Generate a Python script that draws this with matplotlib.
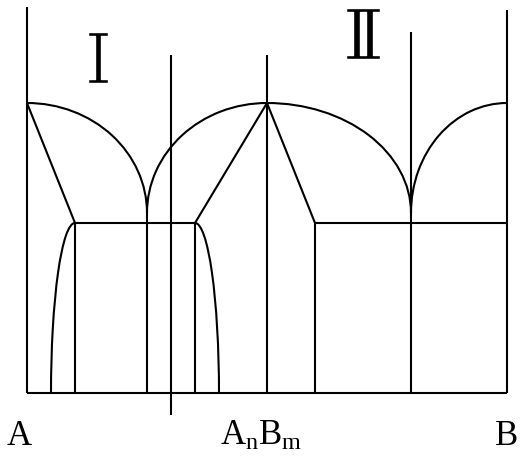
import matplotlib
matplotlib.use("Agg")
import matplotlib.pyplot as plt
import matplotlib.patheffects as pe
from matplotlib.patches import Arc

# composition axis: 0 = pure A, 1 = pure B; temperature in arbitrary units
melt_T = 290            # melting point of A, B and the congruent compound AnBm
cusp_T = 180            # where the liquidus branches meet
eutectic_T = 170        # eutectic horizontals
x_compound = 0.5
x_eutectic = [0.25, 0.80]
alpha_edge = [0.10, 0.35]   # ends of the left eutectic line
beta_edge = [0.60, 1.0]     # ends of the right eutectic line
solvus_foot = [0.05, 0.40]  # solvus ends at the baseline

# vertical lines: (composition, T bottom, T top)
verticals = [
    (0.0, 0, 386),
    (0.10, 0, 170),
    (0.25, 0, 180),
    (0.30, -22, 338),
    (0.35, 0, 170),
    (0.50, 0, 338),
    (0.60, 0, 170),
    (0.80, 0, 361),
    (1.0, 0, 383),
]

region_labels = ["Ⅰ", "Ⅱ"]
region_pos = [(0.148, 310), (0.70, 334)]
bottom_labels = ["A", r"$\mathrm{A_{n}B_{m}}$", "B"]

plt.rcParams['mathtext.fontset'] = 'custom'
plt.rcParams['mathtext.rm'] = 'Liberation Serif'

fig = plt.figure(figsize=(5.25, 4.59), dpi=100)
ax = fig.add_axes([0, 0, 1, 1])
ax.set_xlim(-27 / 480, 498 / 480)
ax.set_ylim(-66, 393)
ax.axis('off')

lw = 1.5
kw = dict(color='black', lw=lw, solid_capstyle='butt')

# baseline
ax.plot([0, 1], [0, 0], **kw)

for x, t0, t1 in verticals:
    ax.plot([x, x], [t0, t1], **kw)

# eutectic horizontals
ax.plot(alpha_edge, [eutectic_T, eutectic_T], **kw)
ax.plot(beta_edge, [eutectic_T, eutectic_T], **kw)

# solidus lines
ax.plot([0, alpha_edge[0]], [melt_T, eutectic_T], **kw)
ax.plot([x_compound, alpha_edge[1]], [melt_T, eutectic_T], **kw)
ax.plot([x_compound, beta_edge[0]], [melt_T, eutectic_T], **kw)

# liquidus arcs
dh = 2 * (melt_T - cusp_T)
arcs = [
    ((0.0, cusp_T), 2 * x_eutectic[0], 0, 90),
    ((x_compound, cusp_T), 2 * (x_compound - x_eutectic[0]), 90, 180),
    ((x_compound, cusp_T), 2 * (x_eutectic[1] - x_compound), 0, 90),
    ((1.0, cusp_T), 2 * (1.0 - x_eutectic[1]), 90, 180),
]
for c, w, a0, a1 in arcs:
    ax.add_patch(Arc(c, w, dh, theta1=a0, theta2=a1, color='black', lw=lw))

# solvus curves
sh = 2 * eutectic_T
ax.add_patch(Arc((alpha_edge[0], 0), 2 * (alpha_edge[0] - solvus_foot[0]), sh,
                 theta1=90, theta2=180, color='black', lw=lw))
ax.add_patch(Arc((alpha_edge[1], 0), 2 * (solvus_foot[1] - alpha_edge[1]), sh,
                 theta1=0, theta2=90, color='black', lw=lw))

# thin the serif numerals a little with a white outline
thin = [pe.Normal(), pe.Stroke(linewidth=1.0, foreground='white')]
for lab, (x, t) in zip(region_labels, region_pos):
    ax.text(x, t, lab, ha='center', va='baseline', fontsize=50,
            family=['DejaVu Serif', 'DejaVu Sans'], path_effects=thin)

serif = dict(family='Liberation Serif', fontsize=25, va='baseline')
ax.text(-0.042, -52, bottom_labels[0], ha='left', **serif)
ax.text(0.402, -52, bottom_labels[1], ha='left', **serif)
ax.text(1.023, -52, bottom_labels[2], ha='right', **serif)

fig.savefig('out.png', dpi=100)
